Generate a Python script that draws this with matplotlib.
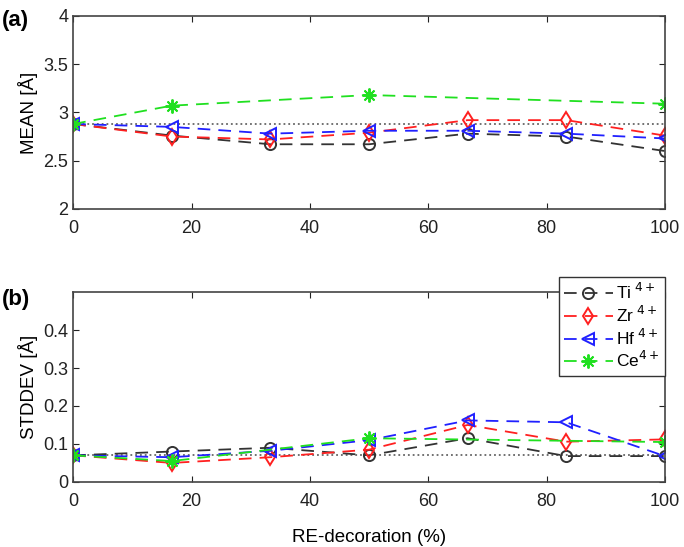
import matplotlib.pyplot as plt

plt.rcParams['font.family'] = ['Liberation Sans', 'DejaVu Sans']

x = [0, 16.67, 33.33, 50, 66.67, 83.33, 100]
x_ce = [0, 16.67, 50, 100]

mean_ti = [2.88, 2.76, 2.67, 2.67, 2.78, 2.75, 2.60]
mean_zr = [2.88, 2.75, 2.72, 2.79, 2.92, 2.92, 2.76]
mean_hf = [2.88, 2.85, 2.78, 2.81, 2.81, 2.78, 2.73]
mean_ce = [2.88, 3.07, 3.18, 3.09]
mean_ref = 2.88

std_ti = [0.07, 0.080, 0.090, 0.070, 0.115, 0.068, 0.068]
std_zr = [0.07, 0.050, 0.065, 0.085, 0.150, 0.106, 0.112]
std_hf = [0.07, 0.065, 0.082, 0.110, 0.162, 0.157, 0.068]
std_ce = [0.07, 0.055, 0.115, 0.105]
std_ref = 0.07

labels = ['Ti$^{\\ 4+}$', 'Zr$^{\\ 4+}$', 'Hf$^{\\ 4+}$', 'Ce$^{4+}$']
colors = ['#333333', '#ff2020', '#2020ff', '#20e020']
markers = ['o', 'd', '<', (8, 2, 0)]

fig = plt.figure(figsize=(6.84, 5.47), dpi=100)
ax1 = fig.add_axes([0.107, 0.618, 0.865, 0.353])
ax2 = fig.add_axes([0.107, 0.119, 0.865, 0.347])

series_a = [(x, mean_ti), (x, mean_zr), (x, mean_hf), (x_ce, mean_ce)]
series_b = [(x, std_ti), (x, std_zr), (x, std_hf), (x_ce, std_ce)]

for ax, series, ref in [(ax1, series_a, mean_ref), (ax2, series_b, std_ref)]:
    ax.axhline(ref, color='#666666', linestyle=':', linewidth=1.3, zorder=1)
    for (xs, ys), lab, c, m in zip(series, labels, colors, markers):
        ax.plot(
            xs, ys,
            linestyle=(0, (7, 4.5)),
            color=c,
            linewidth=1.3,
            marker=m,
            markersize=10 if m == markers[3] else 8,
            markerfacecolor='none',
            markeredgecolor=c,
            markeredgewidth=1.4,
            label=lab
        )
    ax.set_xlim(0, 100)
    ax.set_xticks([0, 20, 40, 60, 80, 100])
    ax.tick_params(
        direction='in', top=True, right=True,
        labelsize=13, length=4, colors='#222222'
    )
    ax.tick_params(axis='x', pad=8)
    for s in ax.spines.values():
        s.set_color('#444444')
        s.set_linewidth(1.2)

ax1.set_ylim(2, 4)
ax1.set_yticks([2, 2.5, 3, 3.5, 4])
ax1.set_yticklabels(['2', '2.5', '3', '3.5', '4'])
ax1.set_ylabel('MEAN [Å]', fontsize=13.5)

ax2.set_ylim(0, 0.5)
ax2.set_yticks([0, 0.1, 0.2, 0.3, 0.4])
ax2.set_yticklabels(['0', '0.1', '0.2', '0.3', '0.4'])
ax2.set_ylabel('STDDEV [Å]', fontsize=13.5)
ax2.set_xlabel('RE-decoration (%)', fontsize=13.5, labelpad=14)

ax2.legend(
    loc='upper right',
    bbox_to_anchor=(1.0, 1.08),
    borderaxespad=0,
    fontsize=12.5,
    handlelength=2.8,
    handletextpad=0.2,
    labelspacing=0.15,
    borderpad=0.3,
    fancybox=False,
    edgecolor='#333333',
    framealpha=1
)

fig.text(0.003, 0.952, '(a)', fontsize=16, fontweight='bold')
fig.text(0.003, 0.442, '(b)', fontsize=16, fontweight='bold')

plt.savefig('out.png', dpi=100)
